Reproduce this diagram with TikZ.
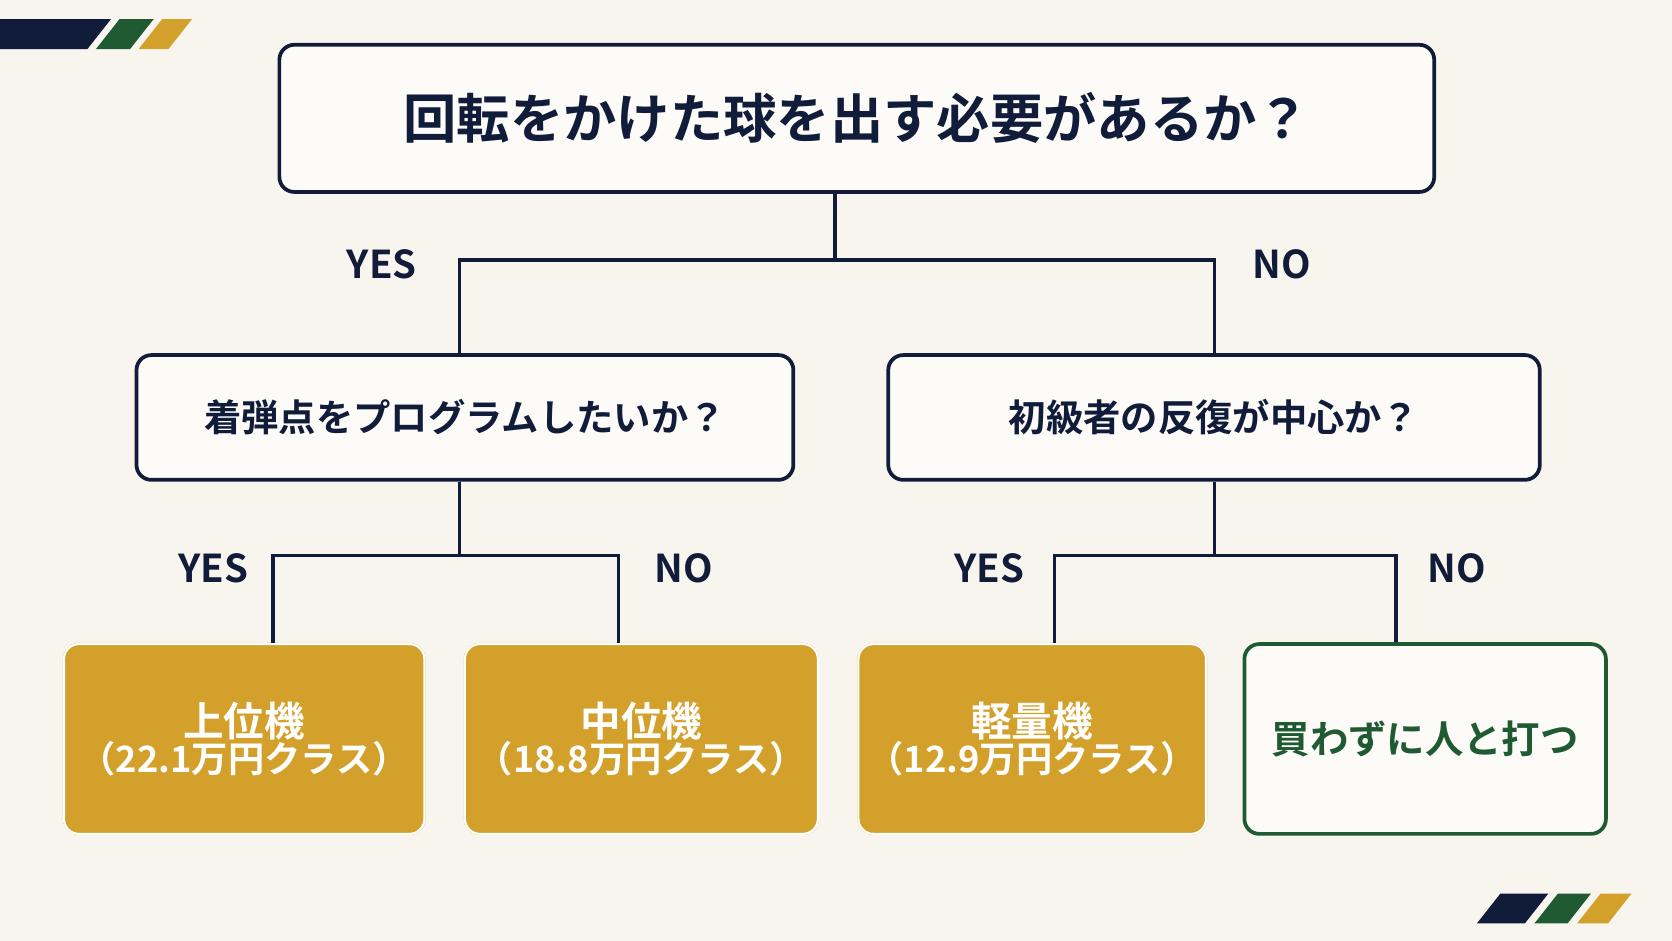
\documentclass[tikz,border=0pt]{standalone}
\usepackage{fontspec}
\setmainfont{Noto Sans CJK JP}[BoldFont=* Bold]
\definecolor{navy}{HTML}{111C3A}
\definecolor{dgreen}{HTML}{1F5A32}
\definecolor{gold}{HTML}{D3A12B}
\definecolor{bg}{HTML}{F8F5EE}
\begin{document}
\begin{tikzpicture}[x=1pt,y=-1pt,
  q/.style={draw=navy,line width=3.5pt,rounded corners=14pt,fill=white!60!bg,text=navy,font=\bfseries,inner sep=0},
  g/.style={draw=gold,line width=2pt,rounded corners=14pt,fill=gold,text=white,font=\bfseries,align=center,inner sep=0,
    postaction={draw=white,line width=2pt,rounded corners=11pt,shorten >=0pt}},
  lab/.style={text=navy,font=\fontsize{36}{40}\selectfont\bfseries},
  con/.style={navy,line width=3.5pt}]
\fill[bg] (0,0) rectangle (1568,882);
\useasboundingbox (0,0) rectangle (1568,882);
% stripes
\fill[navy] (0,18)--(104,18)--(82,46)--(0,46)--cycle;
\fill[dgreen] (112,18)--(144,18)--(122,46)--(90,46)--cycle;
\fill[gold] (152,18)--(180,18)--(158,46)--(130,46)--cycle;
\fill[navy] (1407,838)--(1452,838)--(1430,866)--(1385,866)--cycle;
\fill[dgreen] (1461,838)--(1492,838)--(1470,866)--(1439,866)--cycle;
\fill[gold] (1501,838)--(1530,838)--(1508,866)--(1479,866)--cycle;
% nodes
\node[q,minimum width=1083pt,minimum height=138pt,font=\fontsize{50}{56}\selectfont\bfseries] (top) at (803.5,111) {回転をかけた球を出す必要があるか？};
\node[q,minimum width=616pt,minimum height=117pt,font=\fontsize{35}{40}\selectfont\bfseries] (l) at (436,391.5) {着弾点をプログラムしたいか？};
\node[q,minimum width=611pt,minimum height=117pt,font=\fontsize{35}{40}\selectfont\bfseries] (r) at (1138.5,391.5) {初級者の反復が中心か？};
\coordinate (j0) at (783,244); \coordinate (jl) at (431,244); \coordinate (jr) at (1139,244);
\draw[con] (top.south-|j0) -- (j0); \draw[con] (jl|-l.north) -- (jl) -- (jr) -- (jr|-r.north);
\node[lab] (y1) at (358,248) {YES}; \node[lab] (n1) at (1202,248) {NO};
\def\gsz{\fontsize{38}{62}\selectfont}
\node[g,minimum width=338pt,minimum height=178pt] (b1) at (229,693) {{\gsz 上位機}\\{\fontsize{34}{40}\selectfont（22.1万円クラス）}};
\node[g,minimum width=331pt,minimum height=178pt] (b2) at (601.5,693) {{\gsz 中位機}\\{\fontsize{34}{40}\selectfont（18.8万円クラス）}};
\node[g,minimum width=326pt,minimum height=178pt] (b3) at (968,693) {{\gsz 軽量機}\\{\fontsize{34}{40}\selectfont（12.9万円クラス）}};
\node[q,draw=dgreen,text=dgreen,minimum width=339pt,minimum height=178pt,font=\fontsize{36}{40}\selectfont\bfseries] (b4) at (1336.5,693) {買わずに人と打つ};
\coordinate (a1) at (256,521); \coordinate (a2) at (580,521); \coordinate (am) at (431,521);
\coordinate (c1) at (989,521); \coordinate (c2) at (1309,521); \coordinate (cm) at (1139,521);
\draw[con] (l.south-|am) -- (am); \draw[con] (a1|-b1.north) -- (a1) -- (a2) -- (a2|-b2.north);
\draw[con] (r.south-|cm) -- (cm); \draw[con] (c1|-b3.north) -- (c1) -- (c2) -- (c2|-b4.north);
\node[lab] (y2) at (200,533) {YES}; \node[lab] (n2) at (641,533) {NO};
\node[lab] (y3) at (928,533) {YES}; \node[lab] (n3) at (1366,533) {NO};
\end{tikzpicture}
\end{document}
